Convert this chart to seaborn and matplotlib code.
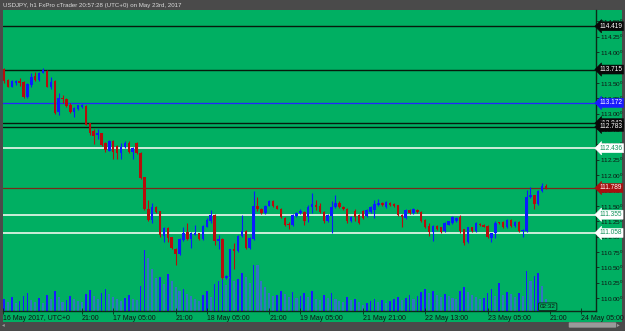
import numpy as np
import pandas as pd
import matplotlib
matplotlib.use("Agg")
import matplotlib.pyplot as plt
from matplotlib.patches import Rectangle, FancyBboxPatch
import seaborn as sns

# USDJPY h1 candles, 16 May 01:00 -> 23 May 20:00 (weekend removed)
opens = [113.719, 113.545, 113.436, 113.501, 113.533, 113.512, 113.273, 113.468, 113.610, 113.545,
         113.654, 113.686, 113.436, 113.533, 113.024, 113.252, 113.241, 113.133, 113.024, 113.078,
         113.100, 113.122, 112.841, 112.720, 112.646, 112.678, 112.515, 112.395, 112.558, 112.472,
         112.363, 112.450, 112.525, 112.374, 112.520, 112.363, 111.963, 111.442, 111.268, 111.475,
         111.410, 111.008, 111.138, 110.987, 110.802, 110.715, 110.943, 111.073, 110.964, 111.029,
         111.052, 110.964, 111.159, 111.257, 111.345, 110.922, 110.964, 110.325, 110.346, 110.792,
         110.759, 111.008, 111.094, 110.813, 110.964, 111.496, 111.452, 111.377, 111.496, 111.582,
         111.496, 111.442, 111.301, 111.203, 111.182, 111.333, 111.377, 111.398, 111.322, 111.485,
         111.517, 111.496, 111.398, 111.247, 111.333, 111.475, 111.550, 111.485, 111.452, 111.247,
         111.410, 111.345, 111.415, 111.333, 111.398, 111.431, 111.507, 111.540, 111.475, 111.540,
         111.528, 111.507, 111.354, 111.301, 111.431, 111.377, 111.431, 111.398, 111.268, 111.171,
         111.073, 111.171, 111.150, 111.094, 111.193, 111.224, 111.257, 111.312, 111.117, 110.911,
         111.150, 111.085, 111.203, 111.193, 111.171, 110.976, 111.052, 111.224, 111.236, 111.150,
         111.268, 111.171, 111.236, 111.096, 111.096, 111.647, 111.670, 111.528, 111.735, 111.821]
highs = [113.740, 113.561, 113.545, 113.545, 113.577, 113.528, 113.496, 113.654, 113.675, 113.675,
         113.740, 113.700, 113.593, 113.545, 113.333, 113.306, 113.260, 113.171, 113.111, 113.143,
         113.155, 113.135, 112.850, 112.748, 112.753, 112.690, 112.530, 112.570, 112.570, 112.480,
         112.515, 112.558, 112.553, 112.450, 112.530, 112.370, 111.970, 111.593, 111.545, 111.490,
         111.420, 111.150, 111.150, 110.990, 110.810, 110.970, 111.154, 111.220, 111.075, 111.187,
         111.060, 111.180, 111.301, 111.431, 111.360, 111.020, 110.980, 110.370, 110.800, 110.889,
         111.020, 111.345, 111.100, 110.990, 111.745, 111.647, 111.460, 111.510, 111.600, 111.600,
         111.520, 111.460, 111.310, 111.236, 111.370, 111.400, 111.440, 111.410, 111.512, 111.702,
         111.593, 111.545, 111.410, 111.360, 111.582, 111.670, 111.570, 111.500, 111.460, 111.340,
         111.450, 111.360, 111.430, 111.450, 111.500, 111.593, 111.610, 111.560, 111.580, 111.560,
         111.540, 111.520, 111.370, 111.450, 111.450, 111.460, 111.440, 111.410, 111.280, 111.220,
         111.180, 111.180, 111.160, 111.230, 111.260, 111.330, 111.320, 111.354, 111.130, 111.160,
         111.160, 111.230, 111.220, 111.200, 111.180, 111.060, 111.257, 111.240, 111.250, 111.280,
         111.280, 111.250, 111.250, 111.120, 111.756, 111.800, 111.680, 111.750, 111.865, 111.854]
lows = [113.496, 113.426, 113.426, 113.463, 113.447, 113.260, 113.252, 113.436, 113.524, 113.524,
        113.654, 113.426, 113.398, 112.992, 112.976, 113.176, 113.106, 113.003, 112.938, 113.057,
        113.085, 112.808, 112.650, 112.504, 112.590, 112.470, 112.374, 112.385, 112.265, 112.265,
        112.265, 112.440, 112.360, 112.260, 112.340, 111.930, 111.430, 111.260, 111.224, 111.380,
        111.000, 110.911, 110.911, 110.800, 110.532, 110.700, 110.930, 110.950, 110.813, 111.020,
        110.950, 110.950, 111.150, 111.224, 110.857, 110.802, 110.310, 110.310, 110.330, 110.476,
        110.750, 111.000, 110.800, 110.800, 110.950, 111.410, 111.360, 111.370, 111.490, 111.480,
        111.440, 111.300, 111.170, 111.127, 111.170, 111.320, 111.370, 111.187, 111.236, 111.377,
        111.431, 111.390, 111.220, 111.240, 111.052, 111.460, 111.460, 111.430, 111.220, 111.240,
        111.260, 111.200, 111.280, 111.320, 111.380, 111.300, 111.490, 111.490, 111.460, 111.490,
        111.480, 111.340, 111.159, 111.290, 111.370, 111.360, 111.380, 111.240, 111.140, 111.008,
        110.932, 111.100, 111.060, 111.080, 111.180, 111.210, 111.240, 111.052, 110.867, 110.900,
        111.070, 111.070, 111.170, 111.150, 110.970, 110.911, 110.976, 111.200, 111.140, 111.140,
        111.160, 111.160, 111.070, 110.992, 111.080, 111.630, 111.452, 111.510, 111.720, 111.777]
closes = [113.533, 113.436, 113.524, 113.533, 113.491, 113.273, 113.480, 113.598, 113.545, 113.663,
          113.707, 113.436, 113.512, 113.003, 113.252, 113.231, 113.122, 113.024, 113.089, 113.133,
          113.140, 112.818, 112.688, 112.634, 112.688, 112.483, 112.407, 112.558, 112.374, 112.363,
          112.450, 112.525, 112.374, 112.439, 112.353, 111.951, 111.442, 111.268, 111.485, 111.398,
          111.020, 111.138, 110.976, 110.813, 110.715, 110.954, 111.062, 110.964, 111.062, 111.052,
          110.964, 111.171, 111.268, 111.345, 110.922, 110.964, 110.325, 110.358, 110.792, 110.759,
          111.008, 111.094, 110.813, 110.976, 111.496, 111.442, 111.377, 111.496, 111.582, 111.496,
          111.452, 111.312, 111.182, 111.182, 111.354, 111.387, 111.420, 111.247, 111.475, 111.528,
          111.475, 111.398, 111.247, 111.345, 111.475, 111.550, 111.475, 111.442, 111.247, 111.322,
          111.322, 111.215, 111.301, 111.431, 111.480, 111.528, 111.550, 111.507, 111.561, 111.507,
          111.496, 111.354, 111.312, 111.431, 111.387, 111.442, 111.398, 111.257, 111.159, 111.073,
          111.171, 111.117, 111.073, 111.215, 111.247, 111.312, 111.301, 111.094, 110.889, 111.150,
          111.085, 111.215, 111.182, 111.159, 110.987, 111.052, 111.215, 111.215, 111.150, 111.268,
          111.171, 111.236, 111.085, 111.106, 111.647, 111.680, 111.528, 111.735, 111.821, 111.789]
volumes = [1200, 900, 1400, 800, 1000, 1500, 1800, 1100, 900, 1300,
           800, 1600, 1200, 2000, 1400, 900, 1100, 1500, 1200, 1000,
           900, 1700, 2100, 1500, 1200, 1800, 2200, 1700, 1400, 1200,
           1000, 1300, 1600, 1200, 1100, 2500, 6100, 5300, 4200, 3300,
           3400, 2700, 3700, 3000, 2400, 2000, 2200, 1700, 1500, 1200,
           1000, 1600, 2000, 1400, 2700, 3000, 3500, 2600, 3300, 3000,
           3200, 3800, 3400, 2800, 4600, 4600, 3000, 2400, 1800, 1500,
           1600, 2000, 1700, 1400, 1900, 1300, 1500, 1800, 1400, 2000,
           1200, 1100, 1600, 1300, 1800, 1200, 1000, 900, 1400, 1100,
           1200, 900, 600, 800, 1000, 1200, 900, 1100, 800, 1000,
           1200, 1400, 1100, 1300, 1600, 1200, 1500, 1900, 2200, 1800,
           2000, 1600, 1400, 1700, 1500, 1300, 1200, 2000, 2400, 1900,
           1600, 1400, 1200, 1300, 1800, 2200, 1500, 2800, 1600, 1900,
           1700, 1400, 1800, 1500, 4000, 3000, 3500, 3800, 2500, 1200]

# horizontal levels drawn on the chart
level_prices = [114.419, 113.715, 113.172, 112.843, 112.783, 112.436, 111.789, 111.355, 111.058]
level_kinds = ["black", "black", "blue", "black", "black", "white", "price", "white", "white"]

price_ticks = [110.00, 110.25, 110.50, 110.75, 111.00, 111.25, 111.50, 111.75, 112.00, 112.25,
               112.50, 112.75, 113.00, 113.25, 113.50, 113.75, 114.00, 114.25, 114.50]
time_tick_bars = [-0.2, 20, 28, 44, 52, 68, 76, 92, 108, 124, 140, 148]
time_tick_labels = ["16 May 2017, UTC+0", "21:00", "17 May 05:00", "21:00", "18 May 05:00", "21:00",
                    "19 May 05:00", "21 May 21:00", "22 May 13:00", "23 May 05:00", "21:00", "24 May 05:00"]

GREEN = "#00af62"
FRAME = "#4a4a4a"
DARK = "#0c2a18"
RED = "#b80c0c"
BLUE = "#0a1cff"
VOL_BLUE = "#1a1aff"
VOL_STEEL = "#3374c4"
line_col = {"black": "#061a0c", "blue": "#2424ff", "white": "#eef8ee", "price": "#7a2a1a"}
line_w = {"black": 1.0, "blue": 0.9, "white": 1.2, "price": 0.9}
box_fc = {"black": "#080808", "blue": "#1a1aff", "white": "#ffffff", "price": "#a81010"}
box_tc = {"black": "white", "blue": "white", "white": "#12925a", "price": "white"}

df = pd.DataFrame({"bar": np.arange(len(opens)), "open": opens, "high": highs,
                   "low": lows, "close": closes, "volume": volumes})
vol_rising = df["volume"].diff().fillna(1) > 0

sns.set_theme(style="white")
plt.rcParams["font.family"] = ["Liberation Sans", "DejaVu Sans"]
plt.rcParams["mathtext.default"] = "regular"

W, H = 625, 331
fig = plt.figure(figsize=(W / 100, H / 100), dpi=100, facecolor=FRAME)
# green panel behind plot and axis labels
fig.patches.append(Rectangle((3 / W, (H - 322) / H), 619 / W, 312 / H,
                             transform=fig.transFigure, fc=GREEN, ec="none", zorder=-5))

ax = fig.add_axes([3 / W, (H - 311) / H, 593 / W, 301 / H])
ax2 = ax.twinx()
ax2.set_zorder(0)
ax.set_zorder(1)
ax.patch.set_visible(False)
ax2.patch.set_visible(False)

# volume histogram: one weighted bin per hourly bar
sns.histplot(data=df[~vol_rising], x="bar", weights="volume", discrete=True, shrink=0.55,
             color=VOL_STEEL, alpha=1, linewidth=0, ax=ax2)
sns.histplot(data=df[vol_rising], x="bar", weights="volume", discrete=True, shrink=0.45,
             color=VOL_BLUE, alpha=1, linewidth=0, ax=ax2)
ax2.set_ylim(0, 30100)
ax2.set_yticks([])
ax2.set_xlabel("")
ax2.set_ylabel("")
for s in ax2.spines.values():
    s.set_visible(False)

# candles
up = df["close"] >= df["open"]
cols = np.where(up, BLUE, RED)
ax.vlines(df["bar"], df["low"], df["high"], colors=cols, lw=0.8, zorder=3)
ax.bar(df["bar"], np.maximum((df["close"] - df["open"]).abs(), 0.016),
       bottom=np.minimum(df["open"], df["close"]), width=0.62, color=cols, lw=0, zorder=4)

# levels + right-hand price boxes
for p, kind in zip(level_prices, level_kinds):
    ax.axhline(p, color=line_col[kind], lw=line_w[kind], zorder=2)
for p, kind in zip(level_prices, level_kinds):
    ax.text(1.006, p, f"{p:.3f}", transform=ax.get_yaxis_transform(), ha="left", va="center",
            fontsize=4.7, color=box_tc[kind], zorder=10, clip_on=False,
            bbox=dict(boxstyle="larrow,pad=0.15", fc=box_fc[kind], ec=box_fc[kind], lw=0.4))

ax.set_xlim(-0.26, 151.8)
ax.set_ylim(109.789, 114.683)

ax.yaxis.tick_right()
ax.set_yticks(price_ticks)
ax.set_yticklabels([f"{t:.2f}$^{{0}}$" for t in price_ticks])
ax.set_xticks(time_tick_bars)
ax.set_xticklabels(time_tick_labels)
for lab in ax.get_xticklabels():
    lab.set_horizontalalignment("left")
ax.tick_params(axis="y", right=True, left=False, direction="out", length=2, width=0.6,
               color=DARK, labelsize=4.6, labelcolor="#111111", pad=1.2)
ax.tick_params(axis="x", bottom=True, direction="inout", length=4, width=0.6,
               color=DARK, labelsize=5, labelcolor="#111111", pad=1)
ax.set_xlabel("")
ax.set_ylabel("")
for side in ["left", "top"]:
    ax.spines[side].set_visible(False)
for side in ["right", "bottom"]:
    ax.spines[side].set_color(DARK)
    ax.spines[side].set_linewidth(1.0)

# countdown timer box
ax.text(139.4, 0.006, "02:32", transform=ax.get_xaxis_transform(), ha="center", va="bottom",
        fontsize=4.6, color="#111111", zorder=10,
        bbox=dict(boxstyle="round,pad=0.2", fc=GREEN, ec=DARK, lw=0.6))

# title strip and scrollbar
fig.text(3 / W, 1 - 5 / H, "USDJPY, h1 FxPro cTrader 20:57:28 (UTC+0) on May 23rd, 2017",
         fontsize=4.4, color="#dcdcdc", va="center", ha="left")
fig.patches.append(FancyBboxPatch((570 / W, (H - 327) / H), 45 / W, 4 / H,
                                  boxstyle="round,pad=0.002", transform=fig.transFigure,
                                  fc="#9a9a9a", ec="none"))
fig.text(617 / W, (H - 325) / H, "\u25b8", fontsize=4, color="#9a9a9a", va="center")
fig.text(2 / W, (H - 325) / H, "\u25c2", fontsize=4, color="#9a9a9a", va="center")

fig.savefig("out.png", dpi=100, facecolor=FRAME)
